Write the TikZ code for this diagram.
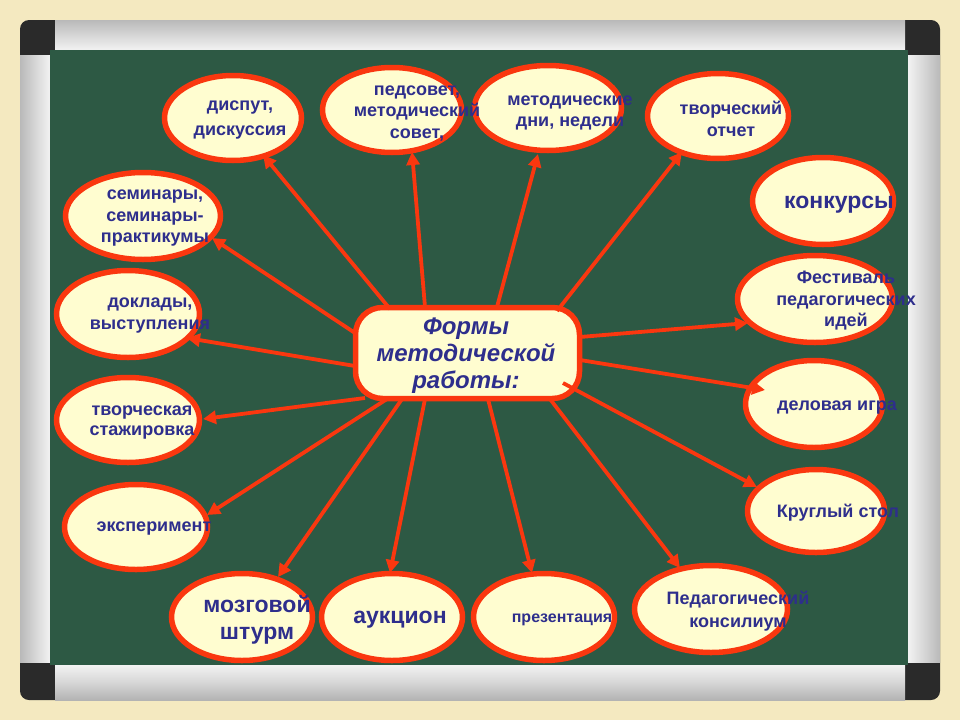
\documentclass[tikz,border=0pt]{standalone}
\usepackage{fontspec}
\setmainfont{Liberation Sans}
\usetikzlibrary{arrows.meta,shapes.geometric}
\definecolor{bg}{RGB}{244,233,192}
\definecolor{board}{RGB}{45,89,68}
\definecolor{rim}{RGB}{250,55,15}
\definecolor{cream}{RGB}{255,253,208}
\definecolor{ink}{RGB}{46,46,140}
\definecolor{cornerc}{RGB}{42,42,42}
\begin{document}
\begin{tikzpicture}[x=1pt,y=-1pt,
  oval/.style={ellipse,draw=rim,fill=cream,line width=5.5pt,inner sep=0pt},
  lbl/.style={text=ink,font=\bfseries\fontsize{18}{#1}\selectfont,align=center,inner sep=0pt},
  lbl/.default=21.5,
  biglbl/.style={text=ink,font=\bfseries\fontsize{23}{27}\selectfont,align=center,inner sep=0pt},
  arr/.style={draw=rim,line width=3.8pt,-{Triangle[length=13pt,width=13pt]}},
]
\useasboundingbox (0,0) rectangle (960,720);
% background and board frame
\fill[bg] (0,0) rectangle (960,720);
\fill[cornerc,rounded corners=9pt] (20,20) rectangle (940,700);
\shade[top color=gray!55,bottom color=gray!10,middle color=gray!32] (55,20) rectangle (905,50);
\shade[top color=gray!10,bottom color=gray!60,middle color=gray!32] (55,665) rectangle (905,700);
\shade[left color=gray!55,right color=gray!10,middle color=gray!32] (20,55) rectangle (50,662);
\shade[left color=gray!10,right color=gray!55,middle color=gray!32] (908,55) rectangle (940,662);
\fill[board] (50,50) rectangle (908,665);

% central node
\node[draw=rim,fill=cream,line width=5.5pt,rounded corners=27pt,minimum width=224pt,minimum height=91pt,inner sep=0pt] (c) at (467.5,353) {};

% ellipses
\node[oval,minimum width=137pt,minimum height=85pt] (e1) at (233,118) {};
\node[oval,minimum width=139pt,minimum height=85pt] (e2) at (392,110) {};
\node[oval,minimum width=147pt,minimum height=85pt] (e3) at (548,108) {};
\node[oval,minimum width=141pt,minimum height=85pt] (e4) at (718,116) {};
\node[oval,minimum width=155pt,minimum height=87pt] (e5) at (143,216) {};
\node[oval,minimum width=141pt,minimum height=87pt] (e6) at (823,201) {};
\node[oval,minimum width=143pt,minimum height=87pt] (e7) at (128,314) {};
\node[oval,minimum width=155pt,minimum height=87pt] (e8) at (815,299) {};
\node[oval,minimum width=143pt,minimum height=85pt] (e9) at (128,420) {};
\node[oval,minimum width=137pt,minimum height=87pt] (e10) at (814,404) {};
\node[oval,minimum width=143pt,minimum height=85pt] (e11) at (136,527) {};
\node[oval,minimum width=137pt,minimum height=83pt] (e12) at (816,511) {};
\node[oval,minimum width=141pt,minimum height=87pt] (e13) at (242,617) {};
\node[oval,minimum width=141pt,minimum height=87pt] (e14) at (392,617) {};
\node[oval,minimum width=141pt,minimum height=87pt] (e15) at (544,617) {};
\node[oval,minimum width=153pt,minimum height=87pt] (e16) at (711,609) {};

% connectors
\draw[arr] ([shift={(-77.5,-44)}]c.center) -- ([shift={(30,37)}]e1.center);
\draw[arr] ([shift={(-42.5,-46)}]c.center) -- ([shift={(20,42)}]e2.center);
\draw[arr] ([shift={(29.5,-46)}]c.center) -- ([shift={(-10,46)}]e3.center);
\draw[arr] ([shift={(89.5,-42)}]c.center) -- ([shift={(-36,36)}]e4.center);
\draw[arr] ([shift={(-112.5,-20)}]c.center) -- ([shift={(69,22)}]e5.center);
\draw[arr] ([shift={(-112.5,13)}]c.center) -- ([shift={(59,24)}]e7.center);
\draw[arr] ([shift={(-102.5,45)}]c.center) -- ([shift={(75,-1)}]e9.center);
\draw[arr] ([shift={(-80.5,46)}]c.center) -- ([shift={(71,-12)}]e11.center);
\draw[arr] ([shift={(-65.5,46)}]c.center) -- ([shift={(36,-40)}]e13.center);
\draw[arr] ([shift={(-42.5,46)}]c.center) -- ([shift={(-2,-44)}]e14.center);
\draw[arr] ([shift={(20.5,46)}]c.center) -- ([shift={(-12,-44)}]e15.center);
\draw[arr] ([shift={(82.5,46)}]c.center) -- ([shift={(-31,-41)}]e16.center);
\draw[arr] ([shift={(95.5,30)}]c.center) -- ([shift={(-59,-24)}]e12.center);
\draw[arr] ([shift={(112.5,7)}]c.center) -- ([shift={(-49,-14)}]e10.center);
\draw[arr] ([shift={(112.5,-16)}]c.center) -- ([shift={(-67,24)}]e8.center);

% texts
\node[text=ink,font=\bfseries\itshape\fontsize{24}{27}\selectfont,align=center,inner sep=0pt] (tc) at (466,356) {Формы\\методической\\работы:};
\node[lbl=25] (t1) at (240,120.5) {диспут,\\дискуссия};
\node[lbl] (t2) at (417,113.5) {педсовет,\\методический\\совет,};
\node[lbl=21] (t3) at (570,112.5) {методические\\дни, недели};
\node[lbl=22] (t4) at (731,119) {творческий\\отчет};
\node[lbl] (t5) at (155,218.5) {семинары,\\семинары-\\практикумы};
\node[biglbl] (t6) at (839,205) {конкурсы};
\node[lbl=22] (t7) at (150,316) {доклады,\\выступления};
\node[lbl] (t8) at (846,301) {Фестиваль\\педагогических\\идей};
\node[lbl=20] (t9) at (142,423) {творческая\\стажировка};
\node[lbl] (t10) at (837,408) {деловая игра};
\node[lbl] (t11) at (154,529) {эксперимент};
\node[lbl] (t12) at (838,513) {Круглый стол};
\node[biglbl] (t13) at (257,619.5) {мозговой\\штурм};
\node[biglbl] (t14) at (400,620) {аукцион};
\node[lbl,font=\bfseries\fontsize{16}{18}\selectfont] (t15) at (562,620) {презентация};
\node[lbl=23] (t16) at (738,611.5) {Педагогический\\консилиум};
\end{tikzpicture}
\end{document}
